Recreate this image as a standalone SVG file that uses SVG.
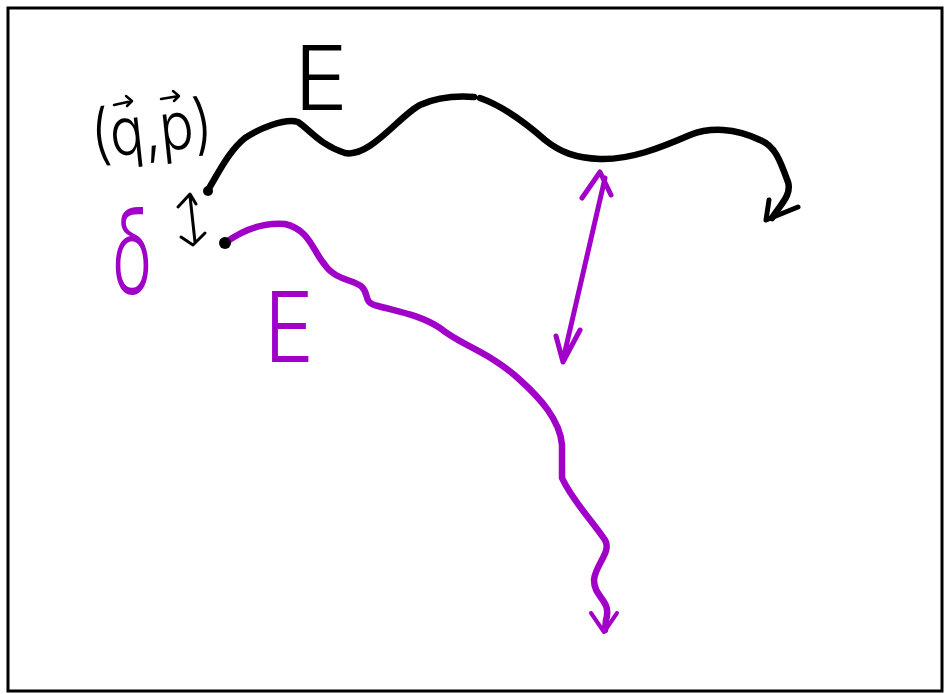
<svg xmlns="http://www.w3.org/2000/svg" width="945" height="694" viewBox="0 0 945 694">
<style>
.k{fill:none;stroke:#000;stroke-linecap:round;stroke-linejoin:round}
.m{fill:none;stroke:#a000c8;stroke-linecap:round;stroke-linejoin:round}
.tk{font-family:Inter,"Liberation Sans",Arial,sans-serif;font-weight:300;fill:#000}
.tm{font-family:Inter,"Liberation Sans",Arial,sans-serif;font-weight:300;fill:#a000c8}
</style>
<rect x="8" y="8" width="934" height="683" fill="#fff" stroke="#000" stroke-width="3"/>
<g id="labels">
<g id="qp">
<text class="tk" x="90" y="152" font-size="66" textLength="122" lengthAdjust="spacingAndGlyphs" transform="rotate(-6 150 125)">(q,p)</text>
<path class="k" stroke-width="2.5" d="M114 105 L132 101 M126 96 L132 101 L127 106"/>
<path class="k" stroke-width="2.5" d="M161 99 L179 96 M173 91 L179 96 L174 101"/>
</g>
<text id="E1" class="tk" x="294" y="110" font-size="90" textLength="54" lengthAdjust="spacingAndGlyphs">E</text>
<text id="delta" class="tm" x="112" y="294" font-size="120" textLength="40" lengthAdjust="spacingAndGlyphs">δ</text>
<text id="E2" class="tm" x="264" y="362" font-size="98" textLength="50" lengthAdjust="spacingAndGlyphs">E</text>
</g>
<g id="connectors">
<path id="black-path" class="k" stroke-width="6.5" d="M208 190 C220 170 230 150 245 138 C260 128 285 118 298 122 C310 130 320 145 345 153 C370 158 400 115 420 105 C440 96 460 96 474 97 M480 98 C500 105 520 118 545 140 C560 152 575 158 600 159 C630 160 660 148 690 135 C710 127 735 128 760 140 C775 146 780 160 788 182 C792 195 780 205 772 218"/>
<path class="k" stroke-width="5" d="M769 200 L766 220 L798 207"/>
<circle cx="208" cy="191" r="5" fill="#000"/>
<path id="delta-arrow" class="k" stroke-width="3" d="M190 196 L195 242 M178 207 L190 194 L196 204 M181 237 L193 245 L205 233"/>
<path id="purple-path" class="m" stroke-width="6.5" d="M225 243 C240 232 260 222 285 224 C310 230 312 250 325 265 C335 280 355 280 362 287 C370 295 362 302 378 306 C400 312 420 315 440 328 C460 345 490 352 520 380 C540 398 560 420 562 445 L562 478 C572 500 590 518 605 540 C612 552 595 565 594 580 C594 598 612 600 606 620 L605 630"/>
<path class="m" stroke-width="4" d="M591 613 L604 632 L617 613"/>
<circle cx="225" cy="243" r="6" fill="#000"/>
<path id="sep-arrow" class="m" stroke-width="5" d="M605 178 L563 360 M582 198 L600 172 L611 195 M556 336 L563 362 L580 330"/>
</g>
</svg>
